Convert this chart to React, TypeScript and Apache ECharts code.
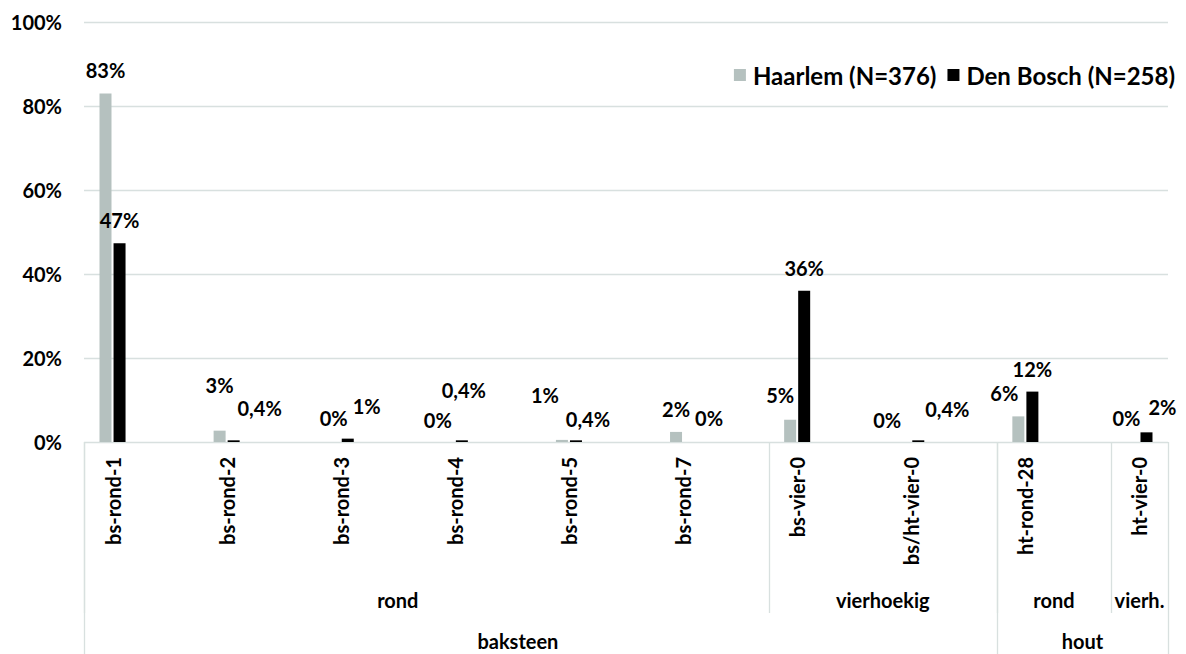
import React, { useEffect, useRef } from "react";
import * as echarts from "echarts";

// ---- data ----
const categories = [
  "bs-rond-1",
  "bs-rond-2",
  "bs-rond-3",
  "bs-rond-4",
  "bs-rond-5",
  "bs-rond-7",
  "bs-vier-0",
  "bs/ht-vier-0",
  "ht-rond-28",
  "ht-vier-0",
];
const seriesNames = ["Haarlem (N=376)", "Den Bosch (N=258)"];
const haarlem = [83.0, 2.7, 0, 0, 0.5, 2.4, 5.3, 0, 6.1, 0];
const denBosch = [47.3, 0.4, 0.8, 0.4, 0.4, 0, 36.0, 0.4, 12.0, 2.3];
const yTicks = [0, 20, 40, 60, 80, 100];
const shapeGroups = [
  { label: "rond", from: 0, to: 5 },
  { label: "vierhoekig", from: 6, to: 7 },
  { label: "rond", from: 8, to: 8 },
  { label: "vierh.", from: 9, to: 9 },
];
const materialGroups = [
  { label: "baksteen", from: 0, to: 7 },
  { label: "hout", from: 8, to: 9 },
];

// ---- layout (label nudges, like manually moved labels) ----
const haarlemLabelOffsets = [
  [0, 0], [0, -23], [0, -1], [-10, 1], [-17, -22], [0, 0], [-10, -2], [-17, 1], [-14, 0], [-6, -1],
];
const denBoschLabelOffsets = [
  [0, 0], [26, -9], [19, -10], [2, -27], [12, 2], [19, -1], [0, 0], [29, -8], [0, 0], [16, -2],
];

const FONT = 'Lato, "Noto Sans", sans-serif';
const GRAY = "#b5c1bf";
const LINE = "#d8e0df";
const W = 1186;
const H = 654;
const PLOT_LEFT = 84;
const PLOT_RIGHT = 1168;
const PLOT_TOP = 22;
const PLOT_BOTTOM = 442;
const STEP = (PLOT_RIGHT - PLOT_LEFT) / (categories.length - 0.5);

const fmt = (v: number) =>
  v === 0 ? "0%" : v < 0.5 ? v.toFixed(1).replace(".", ",") + "%" : Math.round(v) + "%";

export default function App() {
  const ref = useRef<HTMLDivElement>(null);
  useEffect(() => {
    document.body.style.margin = "0";
    if (!ref.current) return;
    const chart = echarts.init(ref.current, undefined, { renderer: "svg" });
    const labelStyle = {
      show: true,
      position: "top" as const,
      distance: 13,
      fontFamily: FONT,
      fontWeight: "bold" as const,
      fontSize: 20,
      lineHeight: 20,
      color: "#000",
      formatter: (p: any) => fmt(p.value),
    };
    const mk = (vals: number[], offs: number[][]) =>
      vals.map((v, i) => ({ value: v, label: { offset: offs[i] } }));

    chart.setOption({
      animation: false,
      backgroundColor: "#fff",
      legend: {
        data: seriesNames,
        right: 6,
        top: 58,
        icon: "rect",
        itemWidth: 12,
        itemHeight: 12,
        itemGap: 11,
        textStyle: {
          fontFamily: FONT,
          fontWeight: "bold",
          fontSize: 24,
          color: "#000",
          padding: [0, 0, 0, 2],
        },
      },
      grid: [
        { left: PLOT_LEFT, width: PLOT_RIGHT - PLOT_LEFT, top: PLOT_TOP, height: PLOT_BOTTOM - PLOT_TOP },
        {
          left: PLOT_LEFT + STEP / 4,
          width: STEP * (categories.length - 1),
          top: PLOT_TOP,
          height: PLOT_BOTTOM - PLOT_TOP,
        },
      ],
      xAxis: [
        { gridIndex: 0, type: "value", min: 0, max: 1, show: false },
        {
          gridIndex: 1,
          type: "category",
          data: categories,
          boundaryGap: false,
          axisLine: { show: false },
          axisTick: { show: false },
          axisLabel: {
            interval: 0,
            rotate: 90,
            margin: 15,
            fontFamily: FONT,
            fontWeight: "bold",
            fontSize: 20,
            color: "#000",
          },
        },
      ],
      yAxis: [
        {
          gridIndex: 0,
          type: "value",
          min: yTicks[0],
          max: yTicks[yTicks.length - 1],
          interval: yTicks[1] - yTicks[0],
          axisLine: { show: false },
          axisTick: { show: false },
          axisLabel: {
            margin: 22,
            formatter: "{value}%",
            fontFamily: FONT,
            fontWeight: "bold",
            fontSize: 20,
            color: "#000",
          },
          splitLine: { lineStyle: { color: LINE, width: 1.3 } },
        },
        {
          gridIndex: 1,
          type: "value",
          min: yTicks[0],
          max: yTicks[yTicks.length - 1],
          show: false,
        },
      ],
      series: [
        {
          name: seriesNames[0],
          type: "bar",
          xAxisIndex: 1,
          yAxisIndex: 1,
          barWidth: 12,
          barGap: "17%",
          itemStyle: { color: GRAY },
          label: labelStyle,
          data: mk(haarlem, haarlemLabelOffsets),
        },
        {
          name: seriesNames[1],
          type: "bar",
          xAxisIndex: 1,
          yAxisIndex: 1,
          barWidth: 12,
          barGap: "17%",
          itemStyle: { color: "#000" },
          label: labelStyle,
          data: mk(denBosch, denBoschLabelOffsets),
        },
      ],
    });

    // multi-level category axis structure
    const cx = (i: number) => chart.convertToPixel({ xAxisIndex: 1 }, categories[i]) as number;
    const step = cx(1) - cx(0);
    const leftB = (i: number) => cx(i) - step / 4;
    const rightB = (i: number) => (i === categories.length - 1 ? cx(i) + step / 4 : leftB(i + 1));
    const row2Y = 600;
    const row3Y = 641;
    const row2Bottom = 613;
    const els: any[] = [];
    const vline = (x: number, y2: number) =>
      els.push({
        type: "line",
        silent: true,
        shape: { x1: Math.round(x) + 0.5, y1: PLOT_BOTTOM, x2: Math.round(x) + 0.5, y2 },
        style: { stroke: LINE, lineWidth: 1.3 },
      });
    const txt = (t: string, x: number, y: number) =>
      els.push({
        type: "text",
        x,
        y,
        silent: true,
        style: {
          text: t,
          fontFamily: FONT,
          fontWeight: "bold",
          fontSize: 20,
          fill: "#000",
          align: "center",
          verticalAlign: "middle",
          textAlign: "center",
          textVerticalAlign: "middle",
        },
      });
    shapeGroups.forEach((g) => {
      vline(leftB(g.from), row2Bottom);
      const a = leftB(g.from);
      const b = rightB(g.to);
      const x = g.to - g.from >= 5 ? (cx(g.from) + cx(g.to)) / 2 : (a + b) / 2;
      txt(g.label, x, row2Y);
    });
    materialGroups.forEach((g) => {
      vline(leftB(g.from), H);
      const x =
        g.to - g.from >= 5 ? (cx(g.from) + cx(g.to)) / 2 + 6 : (leftB(g.from) + rightB(g.to)) / 2;
      txt(g.label, x, row3Y);
    });
    vline(rightB(categories.length - 1), H);
    chart.setOption({ graphic: els });

    return () => chart.dispose();
  }, []);
  return <div ref={ref} style={{ width: W, height: H, overflow: "hidden" }} />;
}
